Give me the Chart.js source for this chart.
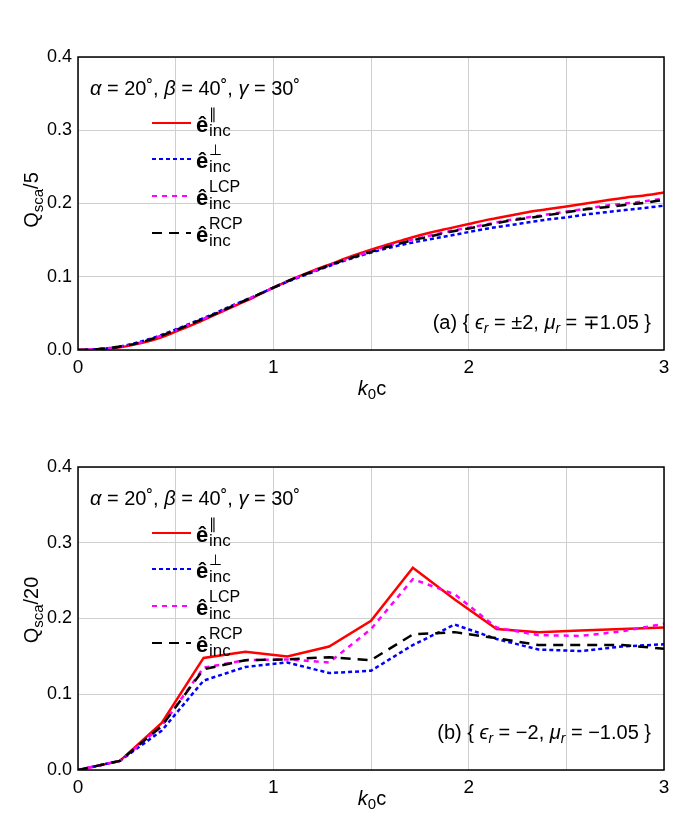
<!DOCTYPE html>
<html>
<head>
<meta charset="utf-8">
<script src="https://cdn.jsdelivr.net/npm/chart.js@4.4.1/dist/chart.umd.min.js"></script>
<style>
  html, body { margin: 0; padding: 0; background: #fff; }
  #wrap { position: relative; width: 692px; height: 830px; overflow: hidden; }
  canvas { position: absolute; left: 0; }
</style>
</head>
<body>
<div id="wrap">
  <canvas id="c1" width="692" height="410" style="top:0px;width:692px;height:410px"></canvas>
  <canvas id="c2" width="692" height="420" style="top:410px;width:692px;height:420px"></canvas>
</div>
<script>
// ---------- Data: panel (a) ----------
const kTop = [0, 0.1, 0.2, 0.3, 0.4, 0.5, 0.6, 0.7, 0.8, 0.9, 1.0, 1.1, 1.2, 1.3, 1.4, 1.5,
              1.6, 1.7, 1.8, 1.9, 2.0, 2.1, 2.2, 2.3, 2.4, 2.5, 2.6, 2.7, 2.8, 2.9, 3.0];
const parTop = [0, 0.001, 0.003, 0.008, 0.015, 0.025, 0.036, 0.048, 0.060, 0.072, 0.085, 0.097, 0.108, 0.118, 0.128, 0.137,
                0.145, 0.153, 0.160, 0.166, 0.172, 0.178, 0.183, 0.188, 0.192, 0.196, 0.200, 0.204, 0.208, 0.211, 0.215];
const perpTop = [0, 0.001, 0.004, 0.010, 0.018, 0.028, 0.039, 0.050, 0.062, 0.073, 0.085, 0.096, 0.106, 0.116, 0.125, 0.133,
                 0.140, 0.146, 0.151, 0.156, 0.161, 0.166, 0.170, 0.174, 0.178, 0.181, 0.185, 0.188, 0.191, 0.194, 0.197];
const lcpTop = [0, 0.001, 0.004, 0.009, 0.017, 0.027, 0.038, 0.049, 0.061, 0.073, 0.085, 0.097, 0.107, 0.117, 0.126, 0.135,
                0.143, 0.150, 0.156, 0.162, 0.167, 0.172, 0.177, 0.181, 0.185, 0.189, 0.193, 0.197, 0.200, 0.203, 0.207];
const rcpTop = [0, 0.001, 0.004, 0.009, 0.017, 0.027, 0.038, 0.049, 0.061, 0.073, 0.085, 0.097, 0.107, 0.117, 0.126, 0.134,
                0.142, 0.149, 0.155, 0.161, 0.166, 0.171, 0.176, 0.180, 0.184, 0.188, 0.192, 0.195, 0.198, 0.201, 0.205];

// ---------- Data: panel (b) ----------
const kBot = [0, 0.2143, 0.4286, 0.6429, 0.8571, 1.0714, 1.2857, 1.5, 1.7143, 1.9286, 2.1429, 2.3571, 2.5714, 2.7857, 3.0];
const parBot = [0, 0.012, 0.062, 0.148, 0.156, 0.150, 0.163, 0.197, 0.267, 0.225, 0.186, 0.182, 0.184, 0.186, 0.188];
const perpBot = [0, 0.012, 0.052, 0.118, 0.136, 0.142, 0.128, 0.131, 0.165, 0.192, 0.173, 0.159, 0.157, 0.163, 0.166];
const lcpBot = [0, 0.012, 0.058, 0.135, 0.145, 0.146, 0.142, 0.186, 0.252, 0.232, 0.188, 0.178, 0.177, 0.183, 0.193];
const rcpBot = [0, 0.012, 0.058, 0.133, 0.145, 0.146, 0.149, 0.145, 0.179, 0.182, 0.174, 0.165, 0.165, 0.165, 0.160];

// ---------- Axis ticks ----------
const yTicks = [0.0, 0.1, 0.2, 0.3, 0.4];
const xTickLabels = [0, 1, 2, 3];

// ---------- Series styles ----------
const seriesStyle = [
  { sup: '\u2225', color: '#ff0000', dash: [], width: 2.5, order: 4 },
  { sup: '\u22A5', color: '#0000ff', dash: [4, 3], width: 2.5, order: 3 },
  { sup: 'LCP', color: '#ff00ff', dash: [5, 5], width: 2.5, order: 2 },
  { sup: 'RCP', color: '#000000', dash: [10, 7], width: 2.5, order: 1 }
];

const FONT = '"Liberation Sans", Arial, sans-serif';

function drawRuns(ctx, x, y, runs, align) {
  let total = 0;
  runs.forEach(r => { ctx.font = r.font; r.w = ctx.measureText(r.t).width; total += r.w + (r.gap || 0); });
  let cx = align === 'right' ? x - total : (align === 'center' ? x - total / 2 : x);
  ctx.textBaseline = 'alphabetic';
  ctx.textAlign = 'left';
  runs.forEach(r => {
    ctx.font = r.font;
    ctx.fillText(r.t, cx, y + (r.dy || 0));
    cx += r.w + (r.gap || 0);
  });
}

function makeTextPlugin(yTitleDen, annot) {
  return {
    id: 'txt',
    afterDraw(chart) {
      const ctx = chart.ctx;
      const a = chart.chartArea;
      ctx.save();
      // frame
      ctx.strokeStyle = '#000';
      ctx.lineWidth = 1.5;
      ctx.setLineDash([]);
      ctx.strokeRect(a.left, a.top, a.right - a.left, a.bottom - a.top);
      ctx.fillStyle = '#000';
      // parameters line
      const f = '20px ' + FONT, fi = 'italic 20px ' + FONT;
      drawRuns(ctx, 90, 95, [
        { t: '\u03B1', font: fi }, { t: ' = 20\u02DA, ', font: f },
        { t: '\u03B2', font: fi }, { t: ' = 40\u02DA, ', font: f },
        { t: '\u03B3', font: fi }, { t: ' = 30\u02DA', font: f }
      ], 'left');
      // legend
      const rowY = [123, 159, 196, 233];
      seriesStyle.forEach((s, i) => {
        const y = rowY[i];
        ctx.beginPath();
        ctx.strokeStyle = s.color;
        ctx.lineWidth = 2;
        ctx.setLineDash(s.dash);
        ctx.moveTo(152, y);
        ctx.lineTo(191, y);
        ctx.stroke();
        ctx.setLineDash([]);
        ctx.fillStyle = '#000';
        ctx.font = 'bold 22px ' + FONT;
        ctx.textAlign = 'left';
        ctx.textBaseline = 'alphabetic';
        ctx.fillText('\u00EA', 196, y + 9);
        const supFont = (s.sup.length > 1 ? '16px ' : '15px ') + FONT;
        ctx.font = supFont;
        ctx.fillText(s.sup, 209, y - 4);
        ctx.font = '17px ' + FONT;
        ctx.fillText('inc', 209, y + 13);
      });
      // annotation
      const g = '20px ' + FONT, gi = 'italic 20px ' + FONT, gs = 'italic 14px ' + FONT;
      drawRuns(ctx, 651, 329, annot.map(r => ({ t: r.t, font: r.k === 'i' ? gi : (r.k === 's' ? gs : g), dy: r.k === 's' ? 4 : 0 })), 'right');
      // y title (rotated)
      ctx.save();
      ctx.translate(38, 200);
      ctx.rotate(-Math.PI / 2);
      drawRuns(ctx, 0, 0, [
        { t: 'Q', font: '20px ' + FONT },
        { t: 'sca', font: '15px ' + FONT, dy: 5 },
        { t: '/' + yTitleDen, font: '20px ' + FONT }
      ], 'center');
      ctx.restore();
      // x title
      drawRuns(ctx, 372, 395, [
        { t: 'k', font: 'italic 20px ' + FONT },
        { t: '0', font: '15px ' + FONT, dy: 4 },
        { t: 'c', font: '20px ' + FONT }
      ], 'center');
      ctx.restore();
    }
  };
}

function makeChart(id, k, series, yDen, annot, cubic) {
  const datasets = series.map((vals, i) => {
    const s = seriesStyle[i];
    return {
      data: k.map((x, j) => ({ x: x, y: vals[j] })),
      borderColor: s.color,
      borderWidth: s.width,
      borderDash: s.dash,
      pointRadius: 0,
      fill: false,
      tension: 0,
      cubicInterpolationMode: cubic ? 'monotone' : 'default',
      order: s.order,
      borderCapStyle: 'butt'
    };
  });
  const canvas = document.getElementById(id);
  return new Chart(canvas, {
    type: 'line',
    data: { datasets },
    options: {
      responsive: false,
      animation: false,
      devicePixelRatio: 1,
      layout: { padding: { left: 0, right: 28, top: 57, bottom: 0 } },
      plugins: { legend: { display: false }, tooltip: { enabled: false }, title: { display: false } },
      scales: {
        x: {
          type: 'linear', min: 0, max: 3,
          afterFit(scale) { scale.height = 410 - 57 - 293 ; },
          grid: { color: '#cfcfcf', lineWidth: 1, drawTicks: false },
          border: { display: false },
          ticks: {
            stepSize: 0.5, autoSkip: false, padding: 6, maxRotation: 0,
            color: '#000', font: { family: FONT, size: 19 },
            callback: v => (xTickLabels.includes(Math.round(v * 1000) / 1000) ? String(Math.round(v)) : '')
          }
        },
        y: {
          type: 'linear', min: 0, max: 0.4,
          afterFit(scale) { scale.width = 78; },
          grid: { color: '#cfcfcf', lineWidth: 1, drawTicks: false },
          border: { display: false },
          afterBuildTicks(scale) { scale.ticks = yTicks.map(v => ({ value: v })); },
          ticks: {
            padding: 6, color: '#000', font: { family: FONT, size: 18 },
            callback: v => Number(v).toFixed(1)
          }
        }
      }
    },
    plugins: [makeTextPlugin(yDen, annot)]
  });
}

makeChart('c1', kTop, [parTop, perpTop, lcpTop, rcpTop], '5', [
  { t: '(a) { ' }, { t: '\u03F5', k: 'i' }, { t: 'r', k: 's' }, { t: ' = \u00B12, ' },
  { t: '\u03BC', k: 'i' }, { t: 'r', k: 's' }, { t: ' = \u22131.05 }' }
], true);
makeChart('c2', kBot, [parBot, perpBot, lcpBot, rcpBot], '20', [
  { t: '(b) { ' }, { t: '\u03F5', k: 'i' }, { t: 'r', k: 's' }, { t: ' = \u22122, ' },
  { t: '\u03BC', k: 'i' }, { t: 'r', k: 's' }, { t: ' = \u22121.05 }' }
], false);
</script>
</body>
</html>
